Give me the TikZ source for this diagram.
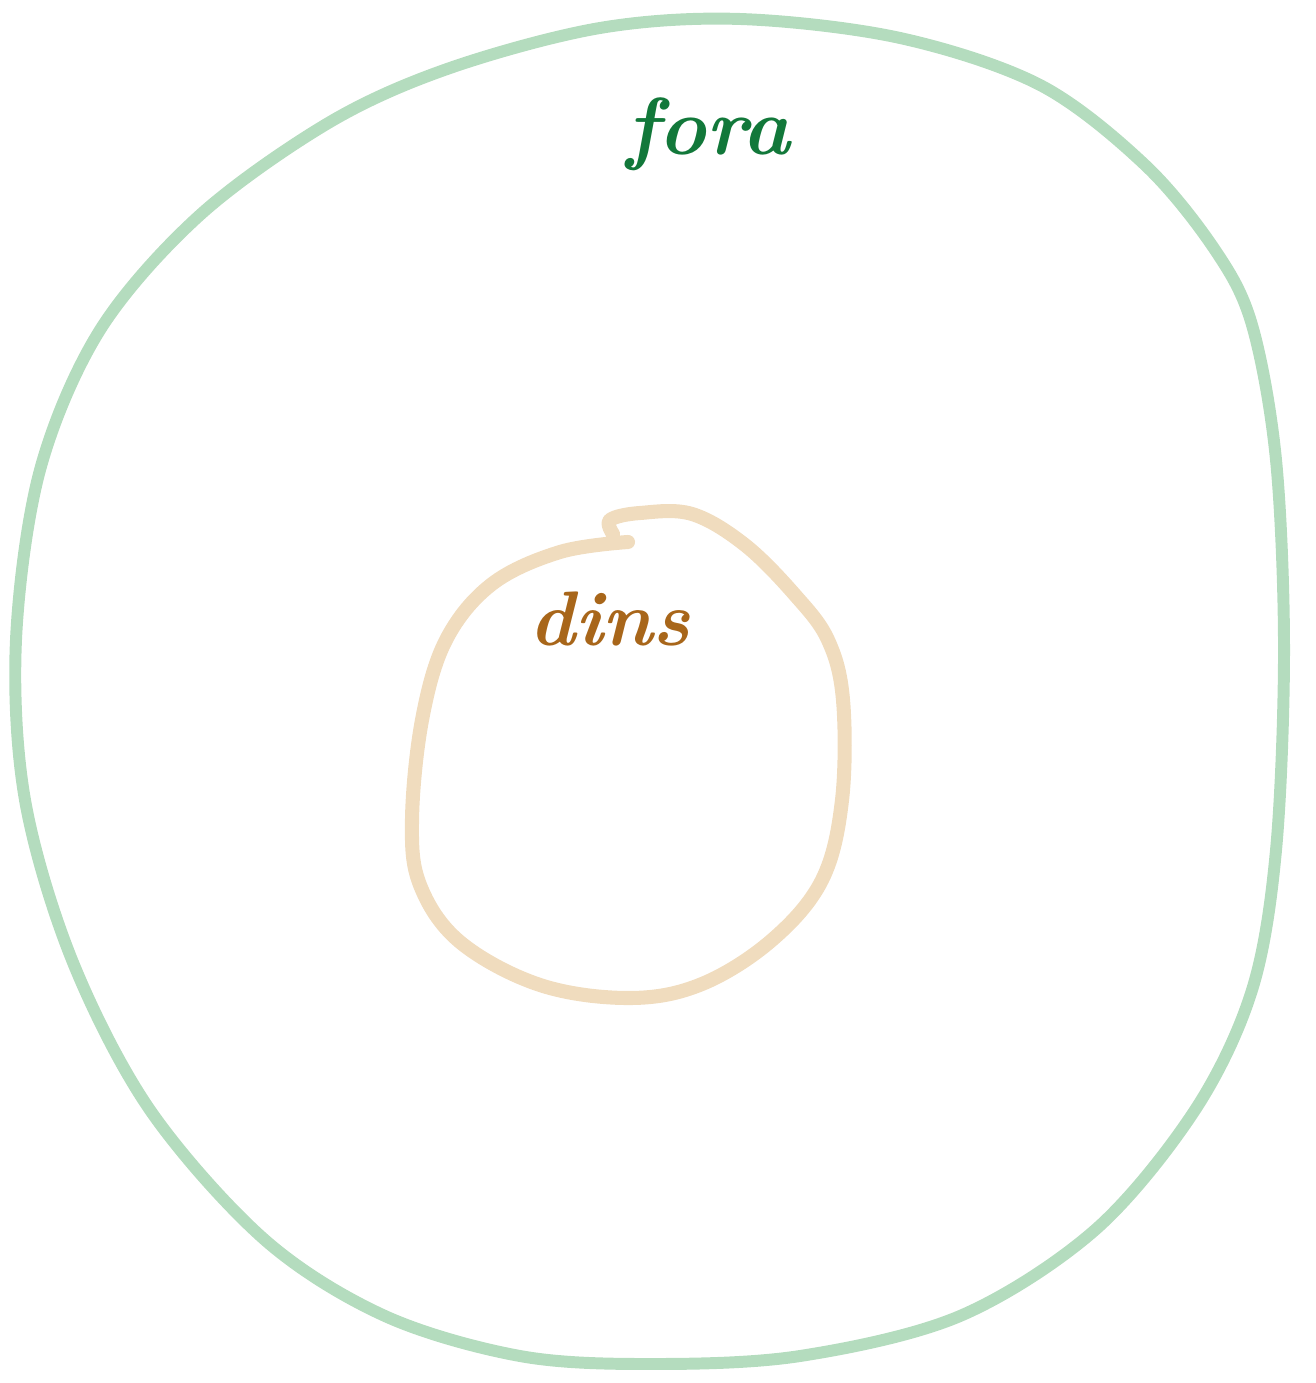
\documentclass[tikz,border=0pt]{standalone}
\definecolor{outerc}{RGB}{180,220,190}
\definecolor{innerc}{RGB}{240,220,190}
\definecolor{foracol}{RGB}{18,120,58}
\definecolor{dinscol}{RGB}{168,102,26}
\begin{document}
\begin{tikzpicture}[x=0.01cm,y=-0.01cm,
  outerline/.style={draw=outerc,line width=3.4pt,line cap=round,line join=round},
  innerline/.style={draw=innerc,line width=4pt,line cap=round,line join=round},
  labelfora/.style={text=foracol,font=\fontsize{23}{23}\selectfont\itshape\bfseries},
  labeldins/.style={text=dinscol,font=\fontsize{22}{22}\selectfont\itshape\bfseries}]
\useasboundingbox (0,0) rectangle (1315,1383);
\draw[outerline]
  plot[smooth cycle,tension=0.55] coordinates {
  (740,19) (900,38) (1040,85) (1145,165) (1215,250) (1252,325)
  (1276,460) (1284,650) (1276,850) (1252,990) (1195,1110) (1095,1230)
  (960,1316) (800,1356) (650,1364) (520,1356) (385,1316) (265,1240)
  (150,1110) (72,960) (25,800) (16,640) (40,470) (100,330) (200,215)
  (330,122) (450,68) (600,28)};
\draw[innerline]
  plot[smooth,tension=0.6] coordinates {
  (628,542) (560,552) (492,584) (446,640) (422,720) (412,820) (420,885)
  (460,942) (540,985) (630,998) (702,984) (772,940) (822,880) (842,800)
  (843,700) (828,640) (795,595) (745,545) (692,514) (640,513) (610,520) (613,534)};
\node[labelfora,anchor=base] (fora) at (708,155) {fora};
\node[labeldins,anchor=base] (dins) at (610,645) {dins};
\end{tikzpicture}
\end{document}
